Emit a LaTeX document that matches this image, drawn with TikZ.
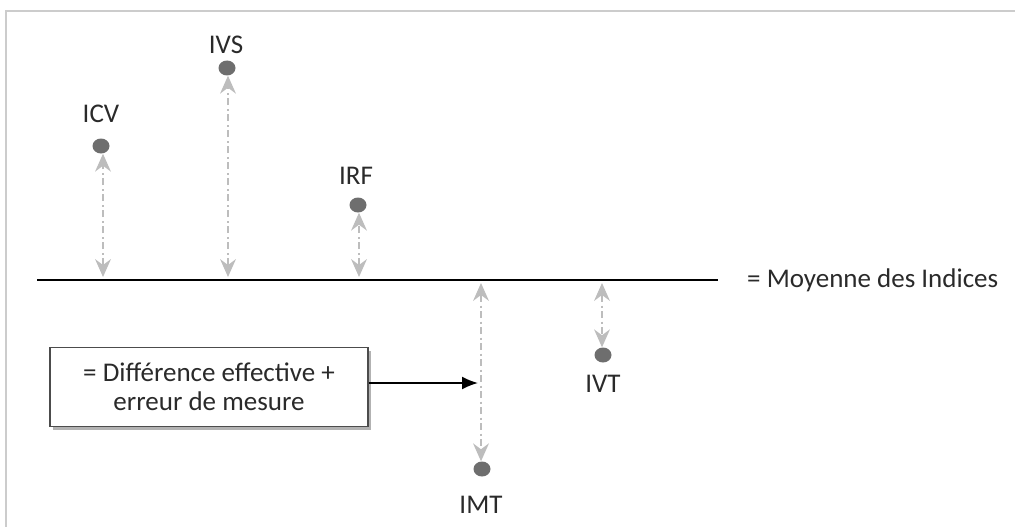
\documentclass[tikz,border=0pt]{standalone}
\usepackage{fontspec}
\setmainfont{Carlito}
\usetikzlibrary{arrows.meta,shadows,shapes.geometric}
\definecolor{dotgray}{HTML}{6E6E6E}
\definecolor{arrgray}{HTML}{BDBDBD}
\definecolor{framegray}{HTML}{CCCCCC}
\definecolor{txt}{HTML}{2A2A2A}
\tikzset{
  pt/.style={ellipse, minimum width=17pt, minimum height=15pt, inner sep=0pt, fill=dotgray, draw=none},
  lbl/.style={font=\fontsize{27}{30}\selectfont, text=txt, inner sep=0pt},
  devtip/.tip={Stealth[length=18pt,width=16pt,inset=6pt,line width=0pt]},
  dev/.style={draw=arrgray, line width=2pt, dash pattern=on 7pt off 3.5pt on 2pt off 3.5pt,
    devtip-devtip},
  meanline/.style={draw=black, line width=2.6pt},
  infobox/.style={draw=black!70, line width=1.2pt, fill=white, minimum width=318pt, minimum height=79pt,
    align=center, font=\fontsize{27}{29}\selectfont, text=txt,
    drop shadow={shadow xshift=2.5pt, shadow yshift=-3.5pt, fill=black!55, opacity=0.55}},
  pointer/.style={draw=black, line width=1.8pt, -{Latex[length=16pt,width=13pt]}}
}
\begin{document}
\begin{tikzpicture}[x=1pt,y=-1pt]
\useasboundingbox (0,0) rectangle (1015,527);
% frame
\draw[framegray, line width=2.2pt] (6,527) -- (6,11) -- (1015,11);
% mean line
\coordinate (L1) at (37,280);
\coordinate (L2) at (718,280);
\draw[meanline] (L1) -- (L2);
\node[lbl, anchor=west] (mean) at (747,280) {= Moyenne des Indices};
% points
\node[pt] (icv) at (101,146) {};
\node[lbl] (icvl) at (101,114) {ICV};
\node[pt] (ivs) at (227,68) {};
\node[lbl] (ivsl) at (226,45) {IVS};
\node[pt] (irf) at (358,205) {};
\node[lbl] (irfl) at (356,176) {IRF};
\node[pt] (imt) at (482,469) {};
\node[lbl] (imtl) at (481,505) {IMT};
\node[pt] (ivt) at (603,355) {};
\node[lbl] (ivtl) at (603,384) {IVT};
% feet
\coordinate (icvf) at (103,277);
\coordinate (ivsf) at (228,277);
\coordinate (irff) at (359,277);
\coordinate (imtf) at (481,283);
\coordinate (ivtf) at (602,283);
\draw[dev] (icvf) -- (icvf |- icv.south);
\draw[dev] (ivsf) -- (ivsf |- ivs.south);
\draw[dev] (irff) -- (irff |- irf.south);
\draw[dev] (imtf) -- (imtf |- imt.north);
\draw[dev] (ivtf) -- (ivtf |- ivt.north);
% box
\node[infobox] (box) at (209,387) {= Différence effective +\\erreur de mesure};
\coordinate (tip) at (478,383);
\draw[pointer] (box.east |- tip) -- (tip);
\end{tikzpicture}
\end{document}
